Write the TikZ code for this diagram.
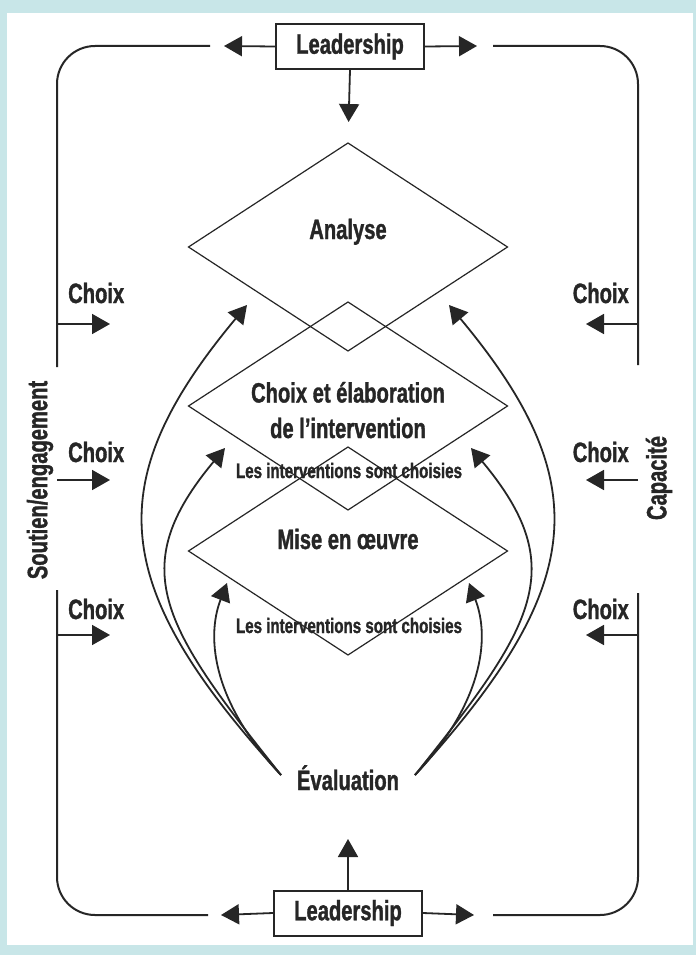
\documentclass[tikz,border=0pt]{standalone}
\usepackage{fontspec}
\newfontfamily\condfont{Liberation Sans}[UprightFont={* Bold}, BoldFont={* Bold}, FakeStretch=0.72, FakeBold=1.2]
\usetikzlibrary{shapes.geometric,arrows.meta}
\definecolor{frameteal}{RGB}{200,230,232}
\definecolor{inkgrey}{RGB}{38,38,38}

\tikzset{
  leadbox/.style={draw=inkgrey, line width=2pt, minimum width=148pt, minimum height=45pt, inner sep=0pt, font=\condfont\fontsize{28}{34}\selectfont, text=inkgrey},
  rhombus/.style={draw=inkgrey, line width=1.2pt, shape=diamond, minimum width=319pt, minimum height=208pt, inner sep=0pt, outer sep=0pt},
  biglabel/.style={font=\condfont\fontsize{28}{36}\selectfont, text=inkgrey, inner sep=0pt, anchor=base},
  smalllabel/.style={font=\condfont\fontsize{21}{24}\selectfont, text=inkgrey, inner sep=0pt, anchor=base},
  tipline/.style={draw=inkgrey, line width=1.8pt, -{Triangle[length=18pt,width=20pt]}},
  loopline/.style={draw=inkgrey, line width=2pt, rounded corners=38pt},
}

\begin{document}
\begin{tikzpicture}[x=1pt,y=1pt,yscale=-1,xscale=1]
%Background
\fill[frameteal] (0,0) rectangle (696,955);
\fill[white] (7,13) rectangle (693,945);

%Shape: Diamond
\node[rhombus] (analyse) at (348,247) {};
%Shape: Diamond
\node[rhombus] (choice) at (348,406) {};
%Shape: Diamond
\node[rhombus] (mise) at (348,551) {};

%Leadership boxes
\node[leadbox] (leadTop) at (350,46.5) {Leadership};
\node[leadbox] (leadBot) at (348,913) {Leadership};

% Text Node
\node[biglabel] (tAnalyse) at (348,239) {Analyse};
% Text Node
\node[biglabel] (tChoice) at (348,402.5) {Choix et élaboration};
\node[biglabel] (tChoice2) at (348,438) {de l’intervention};
% Text Node
\node[smalllabel] (tChosen1) at (349,478) {Les interventions sont choisies};
% Text Node
\node[biglabel] (tMise) at (348,549) {Mise en œuvre};
% Text Node
\node[smalllabel] (tChosen2) at (349,633) {Les interventions sont choisies};
% Text Node
\node[biglabel] (eval) at (348,790) {Évaluation};

% Side labels
\node[biglabel, rotate=90, anchor=center] (tSoutien) at (40,480) {Soutien/engagement};
\node[biglabel, rotate=90, anchor=center] (tCapacite) at (659,478) {Capacité};

%Outer loop
\draw[loopline] (210,46) -| (57,367);
\draw[loopline] (57,590) |- (208,915);
\draw[loopline] (493,46) -| (638,365);
\draw[loopline] (638,593) |- (493,915);

%Leadership arrows
\coordinate (ltL) at (224,46);
\coordinate (ltR) at (477,46);
\coordinate (lbL) at (221,915);
\coordinate (lbR) at (474,915);
\coordinate (evalIn) at (348,839);
\draw[tipline] (leadTop.west) -- (ltL);
\draw[tipline] (leadTop.east) -- (ltR);
\draw[tipline] (leadTop.south) -- (analyse.north) [shorten >=21pt];
\draw[tipline] (leadBot.west) -- (lbL);
\draw[tipline] (leadBot.east) -- (lbR);
\draw[tipline] (leadBot.north) -- (evalIn);

%Choix arrows
\foreach \yy/\bb [count=\i] in {324/303, 480/462, 635/619}{
  \coordinate (chL\i) at (57,\yy);
  \coordinate (chLe\i) at (110,\yy);
  \coordinate (chR\i) at (638,\yy);
  \coordinate (chRe\i) at (586,\yy);
  \node[biglabel, anchor=base west] (choixL\i) at (68,\bb) {Choix};
  \node[biglabel, anchor=base east] (choixR\i) at (629,\bb) {Choix};
  \draw[tipline] (chL\i) -- (chLe\i);
  \draw[tipline] (chR\i) -- (chRe\i);
}

%Feedback curves
\coordinate (evL) at (281,775);
\coordinate (evR) at (415,775);
\coordinate (outL) at (247,305);
\coordinate (midL) at (225,448);
\coordinate (inL) at (227,583);
\coordinate (outR) at (449,305);
\coordinate (midR) at (471,448);
\coordinate (inR) at (469,583);
\draw[tipline] (evL) .. controls (111,588) and (97,485) .. (outL);
\draw[tipline] (evL) .. controls (161,625) and (125,568) .. (midL);
\draw[tipline] (evL) .. controls (215,705) and (205,640) .. (inL);
\draw[tipline] (evR) .. controls (585,588) and (599,485) .. (outR);
\draw[tipline] (evR) .. controls (535,625) and (571,568) .. (midR);
\draw[tipline] (evR) .. controls (481,705) and (491,640) .. (inR);

\end{tikzpicture}
\end{document}
